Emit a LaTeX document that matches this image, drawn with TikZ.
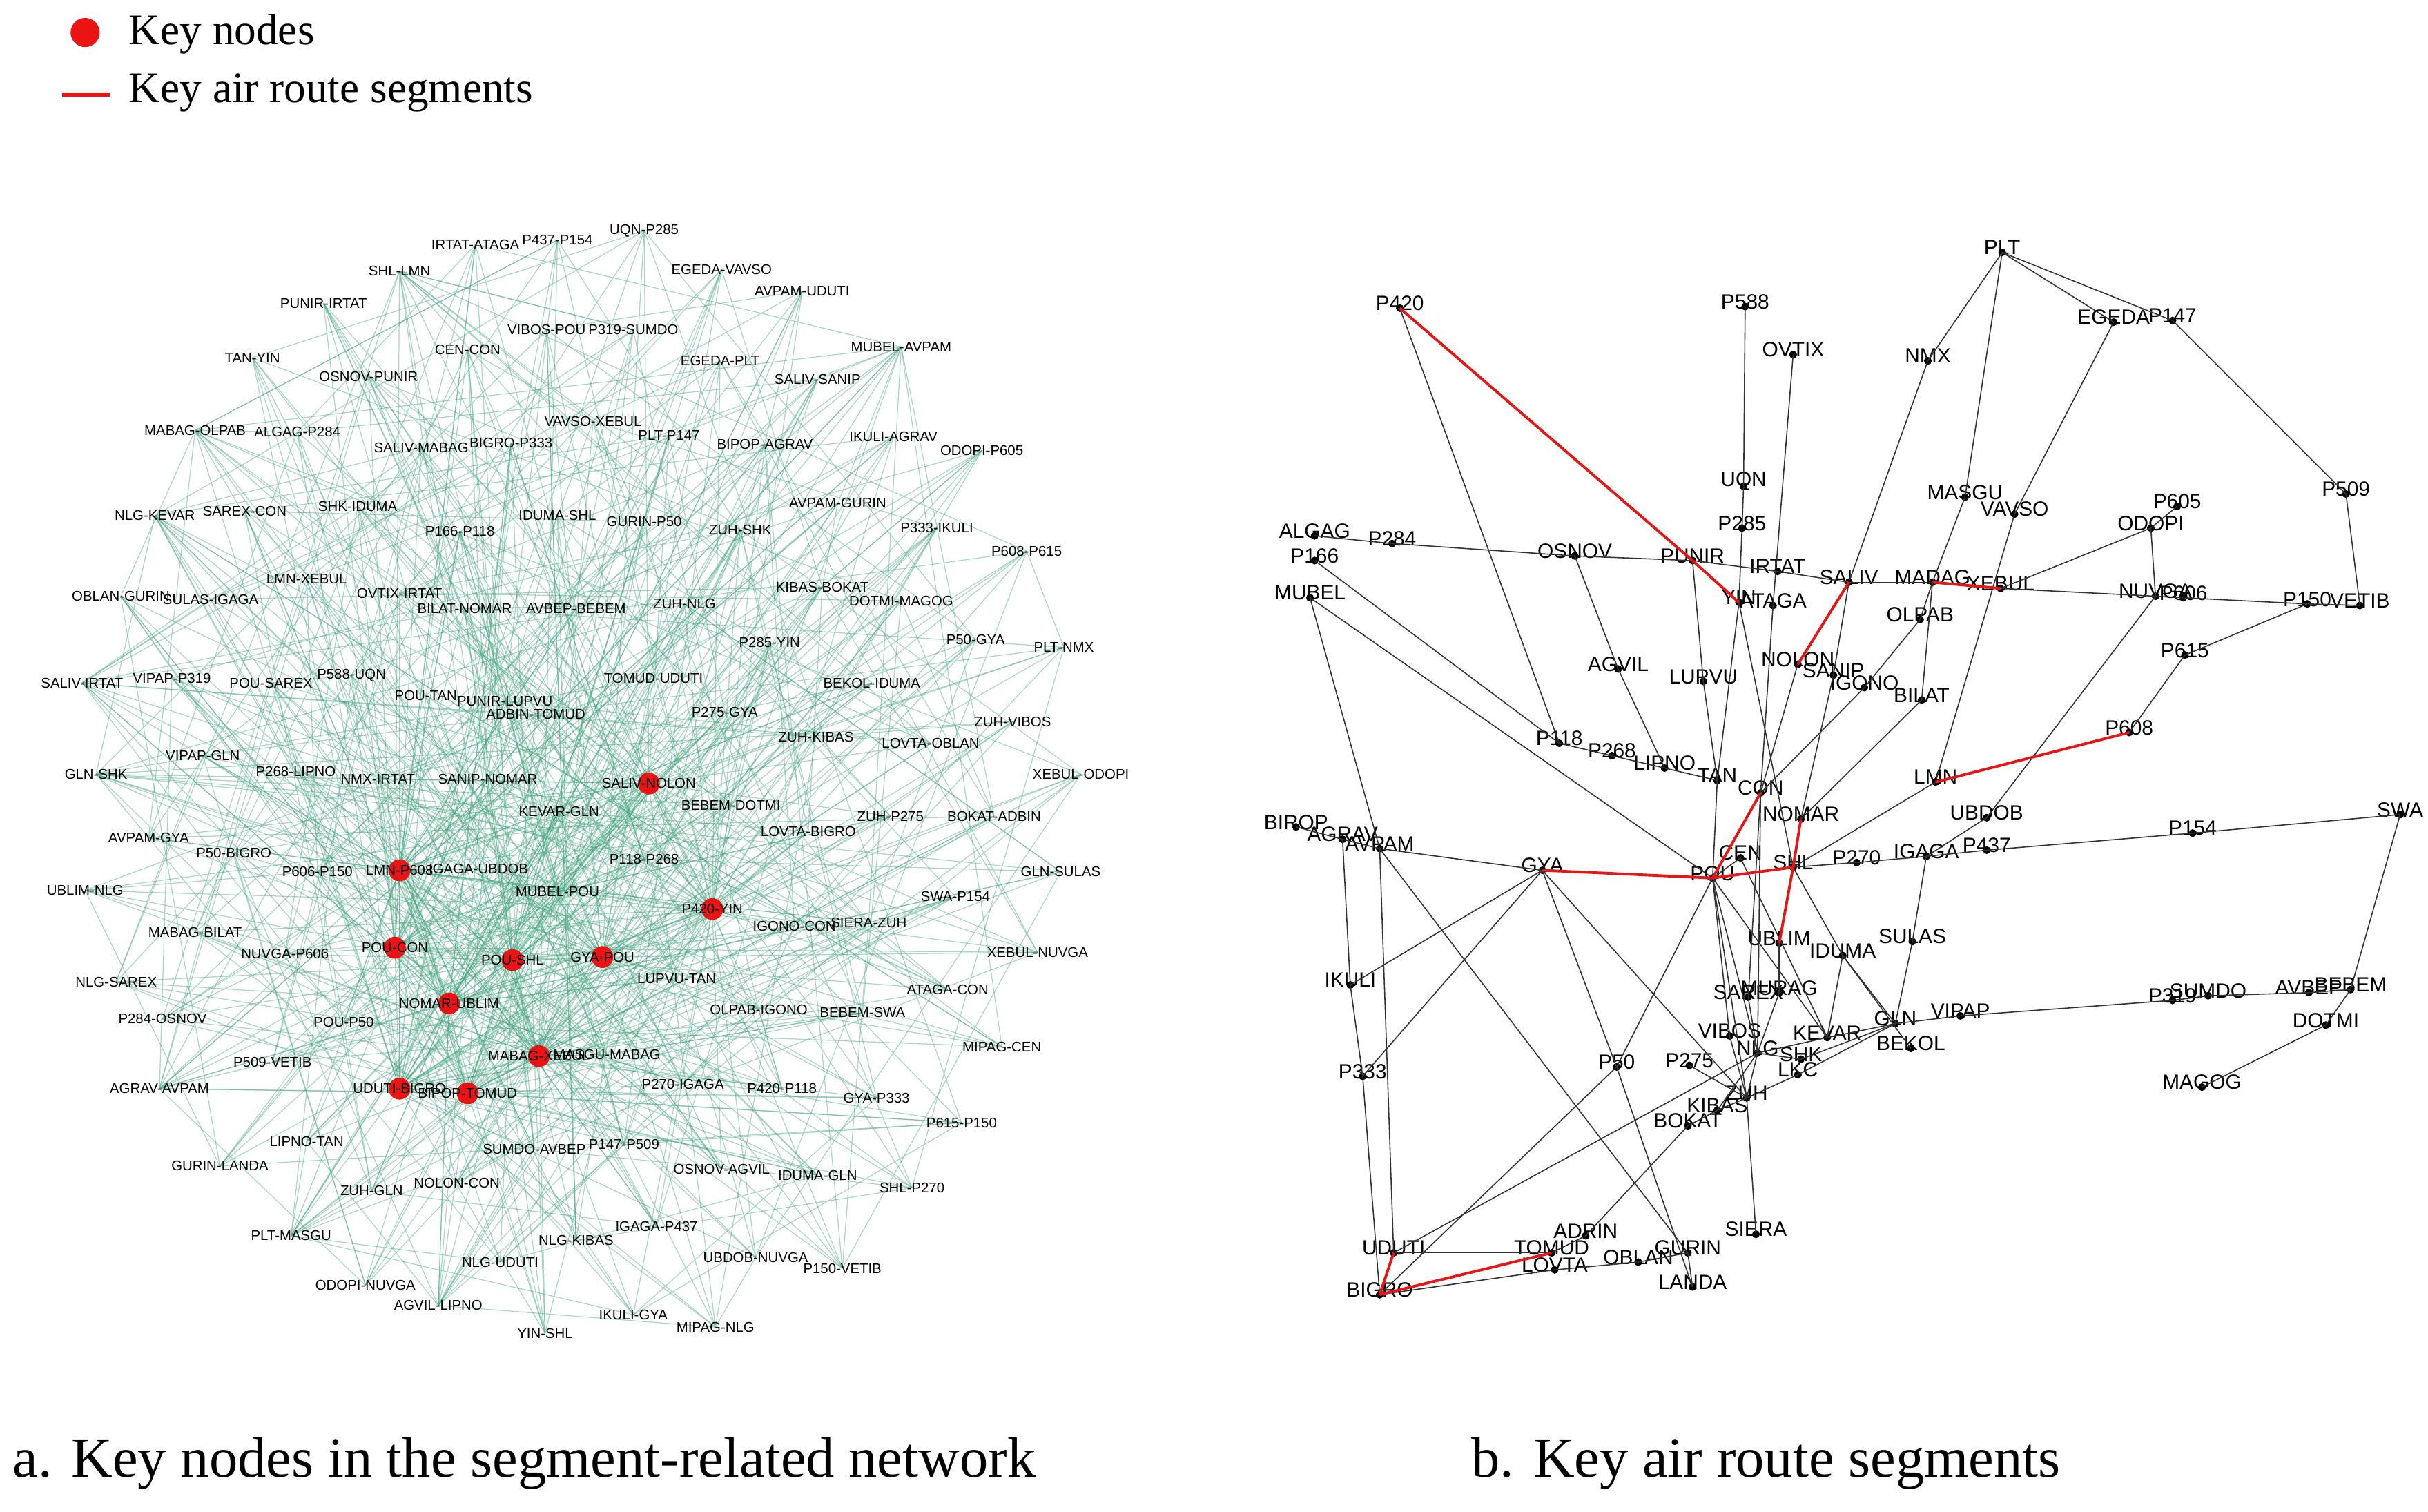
\documentclass[tikz,border=0pt]{standalone}
\usepackage{fontspec}
\setmainfont{Liberation Serif}
\newfontfamily\lab{Liberation Sans}
\definecolor{gr}{RGB}{70,165,130}
\definecolor{kred}{RGB}{235,20,20}
\begin{document}
\begin{tikzpicture}[x={(0.02243cm,0)},y={(0,-0.02243cm)},
  bdot/.style={circle,fill=black,inner sep=0pt,minimum size=3.2pt},
  blab/.style={font=\lab\fontsize{8.5}{9}\selectfont,inner sep=0pt,yshift=2pt},
  alab/.style={font=\lab\fontsize{5.8}{6}\selectfont,inner sep=0.5pt},
  bl/.style={draw=black!80,line width=0.45pt},
  rl/.style={draw=kred,line width=1.1pt},
  gline/.style={draw=gr,line width=0.35pt,opacity=0.45},
  rdot/.style={circle,fill=kred,inner sep=0pt,minimum size=9pt},
  captxt/.style={font=\fontsize{23.5}{26}\selectfont,anchor=west,inner sep=0pt}]
\useasboundingbox[fill=white] (0,0) rectangle (1568,976);
% legend
\node[rdot,minimum size=12pt] (lg1) at (55,21) {};
\node[captxt,font=\fontsize{18}{20}\selectfont] (lt1) at (83,22) {Key nodes};
\coordinate (lgA) at (40,61); \coordinate (lgB) at (71,61);
\draw[rl,line width=1.6pt] (lgA) -- (lgB);
\node[captxt,font=\fontsize{18}{20}\selectfont] (lt2) at (83,60) {Key air route segments};
% captions
\node[captxt] (ca) at (8,945) {a. Key nodes in the segment-related network};
\node[captxt] (cb) at (950,945) {b. Key air route segments};
% ================= part a =================
\def\alist{307/158/IRTAT-ATAGA,360/155/P437-P154,416/149/UQN-P285,258/175/SHL-LMN,466/174/EGEDA-VAVSO,518/188/AVPAM-UDUTI,209/196/PUNIR-IRTAT,353/213/VIBOS-POU,409/213/P319-SUMDO,302/226/CEN-CON,582/224/MUBEL-AVPAM,163/231/TAN-YIN,238/243/OSNOV-PUNIR,465/233/EGEDA-PLT,528/245/SALIV-SANIP,330/286/BIGRO-P333,383/272/VAVSO-XEBUL,126/278/MABAG-OLPAB,192/279/ALGAG-P284,432/281/PLT-P147,577/282/IKULI-AGRAV,634/291/ODOPI-P605,272/289/SALIV-MABAG,494/287/BIPOP-AGRAV,100/333/NLG-KEVAR,158/330/SAREX-CON,231/327/SHK-IDUMA,360/333/IDUMA-SHL,416/337/GURIN-P50,541/325/AVPAM-GURIN,297/343/P166-P118,478/342/ZUH-SHK,605/341/P333-IKULI,663/356/P608-P615,198/374/LMN-XEBUL,78/385/OBLAN-GURIN,136/387/SULAS-IGAGA,258/383/OVTIX-IRTAT,531/379/KIBAS-BOKAT,300/393/BILAT-NOMAR,372/393/AVBEP-BEBEM,442/390/ZUH-NLG,582/388/DOTMI-MAGOG,497/415/P285-YIN,630/413/P50-GYA,53/441/SALIV-IRTAT,111/438/VIPAP-P319,175/441/POU-SAREX,227/436/P588-UQN,687/418/PLT-NMX,563/441/BEKOL-IDUMA,275/449/POU-TAN,326/453/PUNIR-LUPVU,346/461/ADBIN-TOMUD,422/438/TOMUD-UDUTI,468/460/P275-GYA,527/476/ZUH-KIBAS,601/480/LOVTA-OBLAN,654/466/ZUH-VIBOS,62/500/GLN-SHK,131/488/VIPAP-GLN,191/498/P268-LIPNO,244/503/NMX-IRTAT,315/503/SANIP-NOMAR,698/500/XEBUL-ODOPI,361/524/KEVAR-GLN,472/520/BEBEM-DOTMI,575/527/ZUH-P275,642/527/BOKAT-ADBIN,96/541/AVPAM-GYA,309/561/IGAGA-UBDOB,522/537/LOVTA-BIGRO,151/551/P50-BIGRO,416/555/P118-P268,205/563/P606-P150,685/563/GLN-SULAS,55/575/UBLIM-NLG,360/576/MUBEL-POU,617/579/SWA-P154,513/598/IGONO-CON,561/596/SIERA-ZUH,126/602/MABAG-BILAT,670/615/XEBUL-NUVGA,184/616/NUVGA-P606,75/634/NLG-SAREX,437/632/LUPVU-TAN,612/639/ATAGA-CON,490/652/OLPAB-IGONO,557/654/BEBEM-SWA,105/658/P284-OSNOV,222/660/POU-P50,392/681/MASGU-MABAG,647/676/MIPAG-CEN,176/686/P509-VETIB,103/703/AGRAV-AVPAM,441/700/P270-IGAGA,505/703/P420-P118,566/709/GYA-P333,621/725/P615-P150,198/737/LIPNO-TAN,345/742/SUMDO-AVBEP,403/739/P147-P509,142/753/GURIN-LANDA,466/755/OSNOV-AGVIL,528/759/IDUMA-GLN,240/769/ZUH-GLN,295/764/NOLON-CON,589/767/SHL-P270,188/798/PLT-MASGU,372/801/NLG-KIBAS,424/792/IGAGA-P437,488/812/UBDOB-NUVGA,544/819/P150-VETIB,323/815/NLG-UDUTI,236/830/ODOPI-NUVGA,283/843/AGVIL-LIPNO,409/849/IKULI-GYA,462/857/MIPAG-NLG,352/861/YIN-SHL}
\def\rlist{419/506/SALIV-NOLON,258/562/LMN-P608,460/587/P420-YIN,255/612/POU-CON,331/620/POU-SHL,389/618/GYA-POU,290/648/NOMAR-UBLIM,348/682/MABAG-XEBUL,258/703/UDUTI-BIGRO,302/706/BIPOP-TOMUD}
\foreach \x/\y/\t [count=\i] in \alist {\coordinate (a\i) at (\x,\y); \xdef\NA{\i}}
\foreach \x/\y/\t [count=\i] in \rlist {\coordinate (r\i) at (\x,\y);}
\foreach \i in {1,...,\NA}{
  \pgfmathtruncatemacro\j{mod(\i*7+3,\NA)+1}
  \pgfmathtruncatemacro\k{mod(\i*13+5,\NA)+1}
  \pgfmathtruncatemacro\m{mod(\i*29+11,\NA)+1}
  \pgfmathtruncatemacro\p{mod(\i,10)+1}
  \pgfmathtruncatemacro\q{mod(\i*3+1,10)+1}
  \pgfmathtruncatemacro\s{mod(\i*7+4,10)+1}
  \draw[gline] (a\i) -- (a\j);
  \draw[gline] (a\i) -- (a\k);
  \draw[gline] (a\i) -- (a\m);
  \draw[gline] (a\i) -- (r\p);
  \draw[gline] (a\i) -- (r\q);
  \draw[gline] (a\i) -- (r\s);
}
\foreach \i in {1,...,10}{\foreach \jj in {1,...,10}{\ifnum\i<\jj \draw[gline] (r\i) -- (r\jj);\fi}}
\foreach \x/\y/\t [count=\i] in \alist {\node[alab] (al\i) at (a\i) {\t};}
\foreach \x/\y/\t [count=\i] in \rlist {\node[rdot] (rd\i) at (r\i) {}; \node[alab] (rl\i) at (r\i) {\t};}
% ================= part b =================
\newcommand\bn[3]{\node[bdot] (#1) at (#2,#3) {}; \node[blab] (#1l) at (#1) {#1};}
\bn{P420}{904}{199} \bn{P588}{1127}{198} \bn{OVTIX}{1158}{229} \bn{UQN}{1126}{314}
\bn{P285}{1125}{341} \bn{ALGAG}{849}{346} \bn{P284}{899}{351} \bn{P166}{849}{362}
\bn{OSNOV}{1017}{359} \bn{PUNIR}{1093}{362} \bn{IRTAT}{1148}{369} \bn{SALIV}{1194}{376}
\bn{YIN}{1123}{389} \bn{ATAGA}{1145}{391} \bn{MUBEL}{846}{386} \bn{AGVIL}{1045}{432}
\bn{LUPVU}{1100}{440} \bn{NOLON}{1161}{429} \bn{SANIP}{1184}{436} \bn{P118}{1007}{480}
\bn{P268}{1041}{488} \bn{LIPNO}{1075}{496} \bn{TAN}{1109}{504}
\bn{PLT}{1293}{163} \bn{EGEDA}{1365}{208} \bn{P147}{1403}{207} \bn{NMX}{1245}{233}
\bn{P509}{1515}{319} \bn{MASGU}{1269}{321} \bn{VAVSO}{1301}{332} \bn{P605}{1406}{327}
\bn{ODOPI}{1389}{341} \bn{MADAG}{1248}{376} \bn{XEBUL}{1292}{380} \bn{NUVGA}{1392}{385}
\bn{P606}{1410}{386} \bn{P150}{1490}{390} \bn{VETIB}{1524}{391} \bn{OLPAB}{1240}{400}
\bn{P615}{1411}{423} \bn{IGONO}{1204}{444} \bn{BILAT}{1241}{452} \bn{P608}{1375}{473}
\bn{LMN}{1250}{505}
\bn{CON}{1137}{512} \bn{NOMAR}{1163}{529} \bn{BIROP}{837}{534} \bn{AGRAV}{867}{542}
\bn{AVPAM}{891}{548} \bn{CEN}{1124}{554} \bn{GYA}{996}{562} \bn{POU}{1106}{567}
\bn{SHL}{1158}{560} \bn{P270}{1199}{557} \bn{IGAGA}{1244}{553} \bn{P437}{1283}{549}
\bn{UBDOB}{1283}{528} \bn{P154}{1416}{538} \bn{SWA}{1550}{526} \bn{UBLIM}{1149}{609}
\bn{IDUMA}{1190}{617} \bn{IKULI}{872}{636} \bn{SAREX}{1129}{644} \bn{MURAG}{1149}{641}
\bn{VIBOS}{1117}{669} \bn{KEVAR}{1180}{670} \bn{NLG}{1135}{680} \bn{SHK}{1163}{684}
\bn{LKC}{1161}{694} \bn{P50}{1044}{689} \bn{P275}{1091}{688} \bn{P333}{880}{695}
\bn{ZUH}{1128}{709} \bn{KIBAS}{1109}{717} \bn{BOKAT}{1090}{727} \bn{SIERA}{1134}{797}
\bn{ADRIN}{1024}{798} \bn{UDUTI}{900}{809} \bn{TOMUD}{1002}{809} \bn{GURIN}{1090}{809}
\bn{OBLAN}{1058}{815} \bn{LOVTA}{1004}{820} \bn{LANDA}{1093}{831} \bn{BIGRO}{891}{836}
\bn{SULAS}{1235}{608} \bn{GLN}{1224}{661} \bn{BEKOL}{1234}{677} \bn{VIPAP}{1266}{656}
\bn{P319}{1403}{646} \bn{SUMDO}{1426}{643} \bn{AVBEP}{1491}{641} \bn{BEBEM}{1518}{639}
\bn{DOTMI}{1502}{662} \bn{MAGOG}{1422}{702}
\foreach \u/\v in {P420/P118,P588/UQN,UQN/P285,P285/YIN,YIN/TAN,YIN/SHL,OVTIX/ATAGA,ATAGA/CON,CON/NLG,
 ALGAG/P284,P284/OSNOV,OSNOV/PUNIR,PUNIR/IRTAT,IRTAT/SALIV,SALIV/MADAG,XEBUL/NUVGA,NUVGA/P606,P606/P150,P150/VETIB,
 P166/P118,P118/P268,P268/LIPNO,LIPNO/TAN,TAN/POU,MUBEL/POU,MUBEL/AVPAM,OSNOV/AGVIL,AGVIL/LIPNO,PUNIR/LUPVU,LUPVU/TAN,
 NOLON/CON,CEN/KEVAR,NMX/SALIV,SALIV/SANIP,SANIP/NOMAR,CON/IGONO,IGONO/OLPAB,OLPAB/MADAG,PLT/MASGU,MASGU/MADAG,MADAG/BILAT,
 NOMAR/BILAT,SHL/LMN,LMN/VAVSO,VAVSO/EGEDA,NUVGA/ODOPI,ODOPI/P605,ODOPI/XEBUL,NUVGA/UBDOB,P150/P615,P615/P608,
 P147/P509,P509/VETIB,PLT/EGEDA,PLT/P147,PLT/NMX,UBDOB/IGAGA,SHL/P270,P270/IGAGA,IGAGA/P437,P437/P154,P154/SWA,
 SWA/BEBEM,BEBEM/DOTMI,DOTMI/MAGOG,AVBEP/BEBEM,SUMDO/AVBEP,P319/SUMDO,VIPAP/P319,GLN/VIPAP,IGAGA/SULAS,SULAS/GLN,
 IDUMA/GLN,IDUMA/BEKOL,IDUMA/KEVAR,SHL/IDUMA,KEVAR/GLN,NLG/KEVAR,SHK/GLN,NLG/SHK,LKC/GLN,ZUH/LKC,UDUTI/NLG,
 BOKAT/KIBAS,KIBAS/ZUH,ADRIN/BOKAT,ADRIN/TOMUD,UDUTI/TOMUD,BIGRO/LOVTA,LOVTA/OBLAN,OBLAN/GURIN,GURIN/LANDA,
 GYA/P50,P50/LANDA,GYA/ZUH,P275/ZUH,AVPAM/GURIN,AVPAM/GYA,AVPAM/UDUTI,BIROP/AGRAV,AGRAV/AVPAM,AGRAV/IKULI,
 IKULI/P333,P333/BIGRO,IKULI/GYA,P333/GYA,BIGRO/P50,P50/POU,POU/VIBOS,VIBOS/ZUH,POU/NLG,POU/KEVAR,POU/ZUH,
 MURAG/NLG,UBLIM/MURAG,CON/SAREX,SAREX/NLG,NLG/ZUH,NLG/KIBAS,ZUH/SIERA,CEN/POU}
 {\draw[bl] (\u.center) -- (\v.center);}
\foreach \u/\v in {P420/PUNIR,PUNIR/YIN,SALIV/NOLON,MADAG/XEBUL,LMN/P608,CON/POU,POU/SHL,SHL/NOMAR,SHL/UBLIM,GYA/POU,BIGRO/UDUTI,BIGRO/TOMUD}
 {\draw[rl] (\u.center) -- (\v.center);}
\end{tikzpicture}
\end{document}
